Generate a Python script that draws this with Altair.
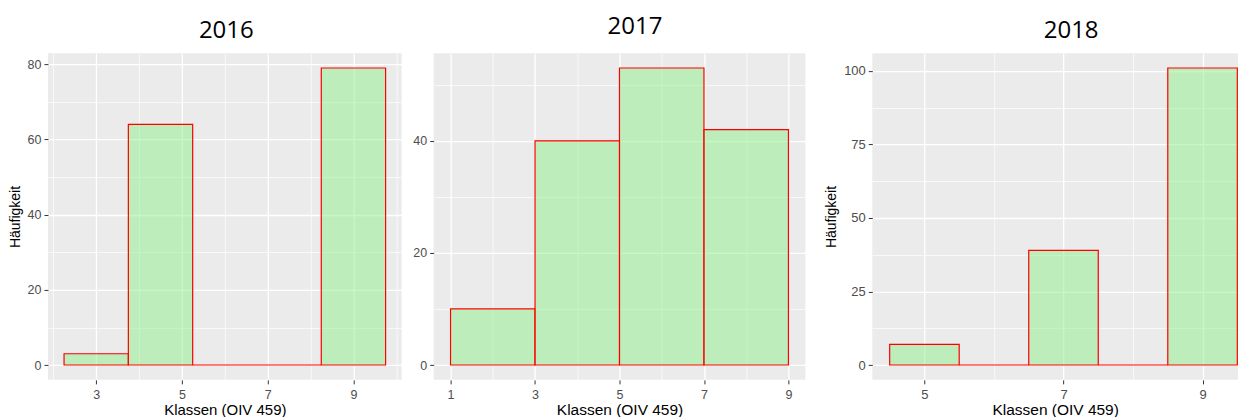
import altair as alt
import pandas as pd

# ---------------- data ----------------
years = ["2016", "2017", "2018"]

bin_start_2016 = [2.25, 3.75, 5.25, 6.75, 8.25]
bin_end_2016 = [3.75, 5.25, 6.75, 8.25, 9.75]
count_2016 = [3, 64, 0, 0, 79]

bin_start_2017 = [1, 3, 5, 7]
bin_end_2017 = [3, 5, 7, 9]
count_2017 = [10, 40, 53, 42]

bin_start_2018 = [4.5, 5.5, 6.5, 7.5, 8.5]
bin_end_2018 = [5.5, 6.5, 7.5, 8.5, 9.5]
count_2018 = [7, 0, 39, 0, 101]

x_major_2016 = [3, 5, 7, 9]
x_minor_2016 = [2, 4, 6, 8, 10]
y_major_2016 = [0, 20, 40, 60, 80]
y_minor_2016 = [10, 30, 50, 70]

x_major_2017 = [1, 3, 5, 7, 9]
x_minor_2017 = [2, 4, 6, 8]
y_major_2017 = [0, 20, 40]
y_minor_2017 = [10, 30, 50]

x_major_2018 = [5, 7, 9]
x_minor_2018 = [6, 8]
y_major_2018 = [0, 25, 50, 75, 100]
y_minor_2018 = [12.5, 37.5, 62.5, 87.5]

x_title = "Klassen (OIV 459)"
y_title = "Häufigkeit"

AXIS_FONT = "Liberation Sans"
TITLE_FONT = "Open Sans"
PANEL_BG = "#EBEBEB"
H = 327


def axis_for(major, minor, title, label_size, title_size, title_padding, label_padding):
    major_txt = "[" + ",".join(str(v) for v in major) + "]"
    is_minor = f"indexof({major_txt}, datum.value) < 0"
    return alt.Axis(
        values=sorted(major + minor),
        labelExpr=f"indexof({major_txt}, datum.value) >= 0 ? datum.label : ''",
        tickOpacity={"condition": {"test": is_minor, "value": 0}, "value": 1},
        gridWidth={"condition": {"test": is_minor, "value": 0.7}, "value": 1.3},
        grid=True,
        gridColor="white",
        domain=False,
        ticks=True,
        tickSize=4,
        tickColor="#333333",
        tickWidth=1,
        labelColor="#4D4D4D",
        labelFont=AXIS_FONT,
        labelFontSize=label_size,
        labelPadding=label_padding,
        labelFlush=False,
        labelOverlap=False,
        title=title,
        titleFont=AXIS_FONT,
        titleFontSize=title_size,
        titleFontWeight="normal",
        titleColor="black",
        titlePadding=title_padding,
    )


def panel(year, starts, ends, counts, xdom, xmaj, xmin, ydom, ymaj, ymin,
          width, ytitle, label_size, xt_size, yt_size, t_dx, t_offset):
    df = pd.DataFrame({"start": starts, "end": ends, "count": counts})
    return (
        alt.Chart(df)
        .mark_rect(fill="#8FF08C", fillOpacity=0.5, stroke="#FF0000", strokeWidth=1.2)
        .encode(
            x=alt.X("start:Q", scale=alt.Scale(domain=xdom, nice=False, zero=False),
                    axis=axis_for(xmaj, xmin, x_title, label_size, xt_size, 1, 5)),
            x2="end:Q",
            y=alt.Y("count:Q", scale=alt.Scale(domain=ydom, nice=False, zero=False),
                    axis=axis_for(ymaj, ymin, ytitle, label_size, yt_size, 5, 3)),
            y2=alt.datum(0),
        )
        .properties(
            width=width,
            height=H,
            view=alt.ViewBackground(fill=PANEL_BG, stroke=None),
            title=alt.TitleParams(
                text=year, font=TITLE_FONT, fontSize=24, fontWeight="normal",
                color="black", anchor="middle", frame="group",
                baseline="alphabetic", offset=t_offset, dx=t_dx,
            ),
        )
    )


p1 = panel(years[0], bin_start_2016, bin_end_2016, count_2016,
           [1.875, 10.125], x_major_2016, x_minor_2016,
           [-3.95, 82.95], y_major_2016, y_minor_2016,
           354, y_title, 12.5, 15, 14, 1.5, -9)
p2 = panel(years[1], bin_start_2017, bin_end_2017, count_2017,
           [0.6, 9.4], x_major_2017, x_minor_2017,
           [-2.65, 55.65], y_major_2017, y_minor_2017,
           372, "", 12.5, 15.5, 14, 15.5, -5)
p3 = panel(years[2], bin_start_2018, bin_end_2018, count_2018,
           [4.25, 9.51], x_major_2018, x_minor_2018,
           [-5.05, 106.05], y_major_2018, y_minor_2018,
           366, y_title, 13, 15.5, 14, 16, -9)

spacer = (
    alt.Chart(pd.DataFrame({"v": [0]}))
    .mark_point(opacity=0, size=1)
    .encode(x=alt.X("v:Q", axis=None), y=alt.Y("v:Q", axis=None))
    .properties(width=3, height=H, view=alt.ViewBackground(fill=None, stroke=None))
)

chart = (
    alt.hconcat(p1, p2, spacer, p3, spacing=32, bounds="flush")
    .properties(padding={"left": 0, "top": 7, "right": 0, "bottom": 0})
    .configure_view(stroke=None)
)

chart.save("out.html", embed_options={"renderer": "svg", "actions": False})
